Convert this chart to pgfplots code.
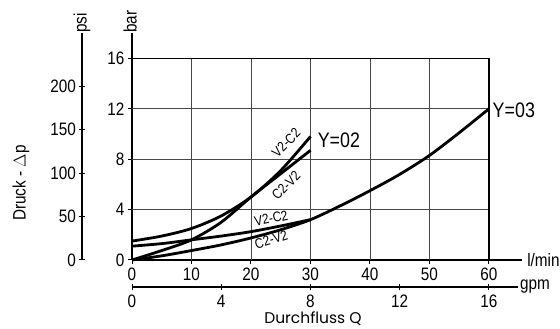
\documentclass[border=0pt]{standalone}
\usepackage{fontspec}
\setmainfont{Liberation Sans}[FakeStretch=0.85]
\newfontfamily\geo{Poppins}
\usepackage{pgfplots}
\pgfplotsset{compat=1.18}
\newcommand{\tf}{\fontsize{18}{19}\selectfont}
\newcommand{\smf}{\fontsize{14}{14}\selectfont}
\begin{document}
\begin{tikzpicture}
\useasboundingbox (0pt,0pt) rectangle (560pt,329pt);
% ---------- psi axis ----------
\begin{axis}[
  at={(82pt,69pt)}, anchor=south west, scale only axis,
  width=1pt, height=226.8pt,
  xmin=0, xmax=1, ymin=0, ymax=261.07,
  hide x axis, axis y line=left,
  axis line style={line width=1.3pt,-},
  ytick={0,50,100,150,200},
  tick align=center, major tick length=7pt,
  tick style={black, line width=1pt},
  /pgf/number format/assume math mode=true,
  yticklabel style={font=\tf, xshift=1pt},
  clip=false,
]
\addplot[draw=none] coordinates {(0,0) (1,1)};
\node[rotate=90, anchor=west, font=\tf, inner sep=0pt] at (axis cs:0,261.07) {psi};
\end{axis}
% ---------- gpm axis ----------
\begin{axis}[
  at={(132pt,42pt)}, anchor=south west, scale only axis,
  width=385.8pt, height=1pt,
  xmin=0, xmax=17.3, ymin=0, ymax=1,
  hide y axis, axis x line=bottom,
  axis line style={line width=1.3pt,-},
  xtick={0,4,8,12,16},
  tick align=center, major tick length=7pt,
  tick style={black, line width=1pt},
  /pgf/number format/assume math mode=true,
  xticklabel style={font=\tf, yshift=-1pt},
  clip=false,
]
\addplot[draw=none] coordinates {(0,0) (1,1)};
\node[anchor=west, font=\tf, inner sep=0pt] at (axis cs:17.4,0) {gpm};
\end{axis}
% ---------- main axis ----------
\begin{axis}[
  at={(132pt,69pt)}, anchor=south west, scale only axis,
  width=389.7pt, height=226.8pt,
  xmin=0, xmax=65.5, ymin=0, ymax=18,
  axis lines=left,
  axis line style={line width=1.3pt,-},
  xtick={0,10,20,30,40,50,60}, ytick={0,4,8,12,16},
  tick align=outside, major tick length=4pt,
  tick style={black, line width=1pt},
  /pgf/number format/assume math mode=true,
  xticklabel style={font=\tf},
  yticklabel style={font=\tf},
  clip=false,
]
% grid
\draw[black!72, line width=0.9pt] (axis cs:10,0) -- (axis cs:10,16);
\draw[black!72, line width=0.9pt] (axis cs:20,0) -- (axis cs:20,16);
\draw[black!72, line width=0.9pt] (axis cs:30,0) -- (axis cs:30,16);
\draw[black!72, line width=0.9pt] (axis cs:40,0) -- (axis cs:40,16);
\draw[black!72, line width=0.9pt] (axis cs:50,0) -- (axis cs:50,16);
\draw[black!72, line width=0.9pt] (axis cs:0,4) -- (axis cs:60,4);
\draw[black!72, line width=0.9pt] (axis cs:0,8) -- (axis cs:60,8);
\draw[black!72, line width=0.9pt] (axis cs:0,12) -- (axis cs:60,12);
\draw[black, line width=1.3pt] (axis cs:0,16) -- (axis cs:60,16) -- (axis cs:60,0);
% Y=02 V2-C2
\addplot[smooth, line width=2.8pt] coordinates {(0,1.5) (5,1.9) (10,2.5) (15,3.5) (20,5.0) (25,7.1) (30,9.8)};
% Y=02 C2-V2
\addplot[smooth, line width=2.8pt] coordinates {(0,0) (5,0.75) (10,1.6) (15,3.0) (20,5.0) (25,6.85) (30,8.7)};
% Y=03 V2-C2
\addplot[smooth, line width=2.8pt] coordinates {(0,1.1) (5,1.3) (10,1.6) (15,1.9) (20,2.25) (25,2.7) (28,3.0) (30,3.2)};
% Y=03 C2-V2
\addplot[smooth, line width=2.8pt] coordinates {(0,0) (5,0.33) (10,0.75) (15,1.2) (20,1.75) (25,2.4) (30,3.2) (35,4.3) (40,5.5) (45,6.8) (50,8.3) (55,10.1) (60,12.0)};
% labels
\node[rotate=45, font=\smf, inner sep=0pt] at (axis cs:25.9,9.3) {V2-C2};
\node[rotate=45, font=\smf, inner sep=0pt] at (axis cs:25.9,5.9) {C2-V2};
\node[rotate=12, font=\smf, inner sep=0pt] at (axis cs:23.4,3.3) {V2-C2};
\node[rotate=18, font=\smf, inner sep=0pt] at (axis cs:23.4,1.6) {C2-V2};
\node[anchor=west, font=\fontsize{21}{21}\selectfont, inner sep=0pt] at (axis cs:31.2,9.5) {Y=02};
\node[anchor=west, font=\fontsize{21}{21}\selectfont, inner sep=0pt] at (axis cs:60.6,11.9) {Y=03};
\node[anchor=west, font=\tf, inner sep=0pt] at (axis cs:66.4,0) {l/min};
\node[rotate=90, anchor=west, font=\tf, inner sep=0pt] at (axis cs:-0.3,18) {bar};
\end{axis}
\node[rotate=90, font=\tf] at (21pt,146pt) {Druck - $\Delta$p};
\node[font=\geo\fontsize{15.5}{15.5}\selectfont] at (313pt,10pt) {Durchfluss Q};
\end{tikzpicture}
\end{document}
